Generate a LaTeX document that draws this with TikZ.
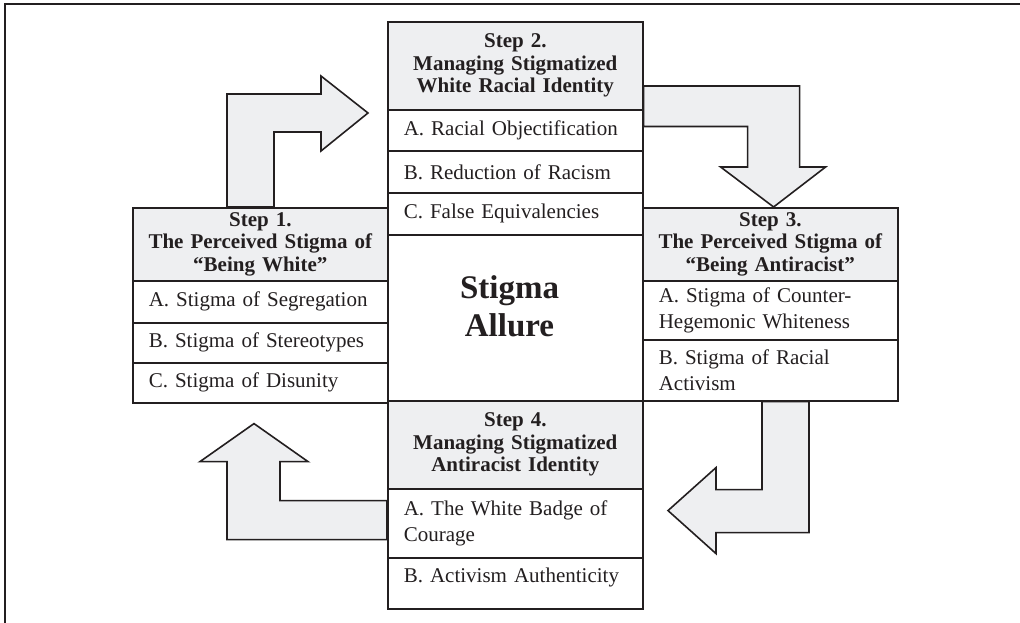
\documentclass[tikz,border=0pt]{standalone}
\usepackage{fontspec}
\setmainfont{Liberation Serif}
\definecolor{ink}{HTML}{231F20}
\definecolor{hdrfill}{HTML}{EEEFF1}
\begin{document}
\begin{tikzpicture}[x=1pt,y=-1pt,
  box/.style={draw=ink, line width=1.6pt, anchor=north west, inner xsep=16pt, inner ysep=0pt,
              text width=223pt, minimum width=255pt, text=ink},
  hdr/.style={box, inner xsep=4pt, text width=247pt, fill=hdrfill, align=center, font=\fontsize{21}{22.5}\selectfont\bfseries},
  row/.style={box, fill=white, align=left, font=\fontsize{21}{26}\selectfont},
  barrow/.style={draw=ink, line width=1.6pt, fill=hdrfill, line join=miter}]
\useasboundingbox (0,0) rectangle (1020,623);
% frame
\draw[ink, line width=2.6pt] (5,623) -- (5,4) -- (1020,4);

% Step 1
\node[hdr, minimum height=73pt] (s1h) at (132,207) {Step 1.\\The Perceived Stigma of\\“Being White”};
\node[row, minimum height=42pt] (s1a) at (132,280) {A. Stigma of Segregation};
\node[row, minimum height=40pt] (s1b) at (132,322) {B. Stigma of Stereotypes};
\node[row, minimum height=40pt] (s1c) at (132,362) {C. Stigma of Disunity};

% Step 3
\node[hdr, minimum height=73pt] (s3h) at (642,207) {Step 3.\\The Perceived Stigma of\\“Being Antiracist”};
\node[row, minimum height=59pt] (s3a) at (642,280) {A. Stigma of Counter-\\Hegemonic Whiteness};
\node[row, minimum height=61pt] (s3b) at (642,339) {B. Stigma of Racial\\Activism};

% Step 2
\node[hdr, minimum height=88pt] (s2h) at (387,21) {Step 2.\\Managing Stigmatized\\White Racial Identity};
\node[row, minimum height=41pt] (s2a) at (387,109) {A. Racial Objectification};
\node[row, minimum height=42pt] (s2b) at (387,150) {B. Reduction of Racism};
\node[row, minimum height=42pt] (s2c) at (387,192) {C. False Equivalencies};
\node[row, minimum height=166pt] (core) at (387,234) {};
\node[text=ink, align=center, inner sep=0pt, font=\fontsize{33}{38}\selectfont\bfseries] (coretext) at (509.5,306) {Stigma\\Allure};

% Step 4
\node[hdr, minimum height=88pt] (s4h) at (387,400) {Step 4.\\Managing Stigmatized\\Antiracist Identity};
\node[row, minimum height=69pt] (s4a) at (387,488) {A. The White Badge of\\Courage};
\node[row, minimum height=51pt] (s4b) at (387,557) {\raisebox{6pt}[\height][\depth]{B. Activism Authenticity}};

% block arrows
% Step 1 -> Step 2
\draw[barrow] ([xshift=95pt]s1h.north west) -- ++(0,-113) -- ++(94,0) -- ++(0,-18)
  -- ++(47,37) coordinate (t1) -- ++(-47,38) -- ++(0,-19) -- ++(-47,0) -- ++(0,75) -- cycle;
% Step 2 -> Step 3
\draw[barrow] ([yshift=-65pt]s2h.north east) -- ++(156,0) -- ++(0,81) -- ++(26,0)
  -- ++(-52,40) coordinate (t2) -- ++(-53,-40) -- ++(27,0) -- ++(0,-40.5) -- ++(-104,0) -- cycle;
% Step 3 -> Step 4
\draw[barrow] ([xshift=120pt]s3b.south west) -- ++(0,88) -- ++(-46,0) -- ++(0,-22)
  -- ++(-48,43) coordinate (t3) -- ++(48,43) -- ++(0,-21) -- ++(93,0) -- ++(0,-131) -- cycle;
% Step 4 -> Step 1
\draw[barrow] ([yshift=-11pt]s4h.south west) -- ++(-107,0) -- ++(0,-39) -- ++(28,0)
  -- ++(-54,-38) coordinate (t4) -- ++(-54,38) -- ++(27,0) -- ++(0,78) -- ++(160,0) -- cycle;
\end{tikzpicture}
\end{document}
